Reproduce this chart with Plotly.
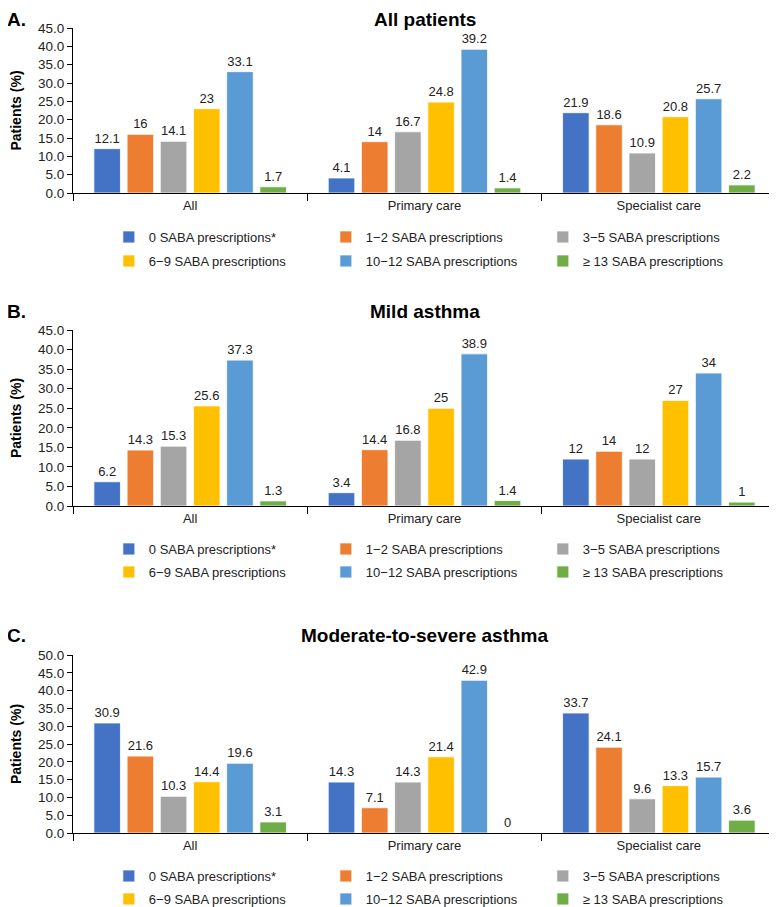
import plotly.graph_objects as go
from plotly.subplots import make_subplots

# data
care = ["All", "Primary care", "Specialist care"]
groups = ["0 SABA prescriptions*", "1\u22122 SABA prescriptions", "3\u22125 SABA prescriptions",
          "6\u22129 SABA prescriptions", "10\u221212 SABA prescriptions", "\u2265 13 SABA prescriptions"]
colors = ["#4472C4", "#ED7D31", "#A5A5A5", "#FFC000", "#5B9BD5", "#70AD47"]

# each list = one SABA group, values for All / Primary / Specialist
all_patients = [[12.1, 4.1, 21.9], [16, 14, 18.6], [14.1, 16.7, 10.9],
                [23, 24.8, 20.8], [33.1, 39.2, 25.7], [1.7, 1.4, 2.2]]
mild = [[6.2, 3.4, 12], [14.3, 14.4, 14], [15.3, 16.8, 12],
        [25.6, 25, 27], [37.3, 38.9, 34], [1.3, 1.4, 1]]
mod_severe = [[30.9, 14.3, 33.7], [21.6, 7.1, 24.1], [10.3, 14.3, 9.6],
              [14.4, 21.4, 13.3], [19.6, 42.9, 15.7], [3.1, 0, 3.6]]

panels = [("A.", "All patients", all_patients, 45),
          ("B.", "Mild asthma", mild, 45),
          ("C.", "Moderate-to-severe asthma", mod_severe, 50)]

FONT = "Arial, Liberation Sans, sans-serif"
# the page puts the plot 8px in from the top-left, so the figure is drawn 8px smaller
OFF = 8
W = 777 - OFF
H = 907 - OFF

fig = make_subplots(rows=3, cols=1)

# page-pixel layout of each panel: (axis top, axis bottom, title y, legend row1, legend row2)
px_layout = [(28, 193, 12, 237, 261), (330, 506, 312, 549, 572), (655, 833, 635, 876, 899)]


def legend_name(n):
    return "legend" if n == 0 else "legend%d" % (n + 1)


def py(v):
    # page pixel -> paper y
    return 1 - (v - OFF) / H


for p, (letter, title, data, ymax) in enumerate(panels):
    row = p + 1
    for i, g in enumerate(groups):
        fig.add_trace(go.Bar(
            x=care, y=data[i], name=g,
            marker=dict(color=colors[i], line=dict(color="white", width=0.8)),
            text=[f"{v:g}" for v in data[i]], textposition="outside",
            textfont=dict(size=13, color="#222", family=FONT),
            cliponaxis=False, legend=legend_name(p * 2 + i // 3), showlegend=True,
        ), row=row, col=1)

    top, bot, ty, l1, l2 = px_layout[p]
    sfx = "" if row == 1 else str(row)
    fig.layout["yaxis" + sfx].update(
        domain=[py(bot), py(top)], range=[0, ymax], dtick=5, tickformat=".1f",
        showline=True, linecolor="black", linewidth=1, ticks="outside", ticklen=5,
        tickcolor="black", showgrid=False, zeroline=False, automargin=False,
        tickfont=dict(size=13.5, color="#222", family=FONT),
        title=dict(text="<b>Patients (%)</b>", font=dict(size=14, color="black", family=FONT), standoff=14),
    )
    fig.layout["xaxis" + sfx].update(
        showline=True, linecolor="black", linewidth=1, ticks="outside", ticklen=7,
        tickcolor="black", tickson="boundaries", showgrid=False, automargin=False,
        tickfont=dict(size=13, color="#222", family=FONT),
    )

    # top panel title would be clipped at the page edge, pin it to the top instead
    if p == 0:
        ty_paper, yanc = 1.0, "top"
    else:
        ty_paper, yanc = py(ty), "middle"
    fig.add_annotation(text="<b>" + letter + "</b>", xref="paper", yref="paper",
                       x=-0.095, y=ty_paper, xanchor="left", yanchor=yanc, showarrow=False,
                       borderpad=0, font=dict(size=19, color="black", family=FONT))
    fig.add_annotation(text="<b>" + title + "</b>", xref="paper", yref="paper",
                       x=0.5, y=ty_paper, xanchor="center", yanchor=yanc, showarrow=False,
                       borderpad=0, font=dict(size=19, color="black", family=FONT))

    # two legend rows per panel
    for k, ly in enumerate([l1, l2]):
        fig.layout[legend_name(p * 2 + k)] = dict(
            orientation="h", x=0.051, xanchor="left", y=py(ly), yanchor="middle",
            entrywidth=172, entrywidthmode="pixels", bgcolor="rgba(0,0,0,0)",
            font=dict(size=13, color="#222", family=FONT), traceorder="normal",
        )

fig.update_layout(
    width=W, height=H, barmode="group", bargap=0.15, bargroupgap=0.2,
    margin=dict(l=73 - OFF, r=1, t=0, b=0, autoexpand=False),
    plot_bgcolor="white", paper_bgcolor="white",
    font=dict(family=FONT),
)

fig.write_html("out.html")
